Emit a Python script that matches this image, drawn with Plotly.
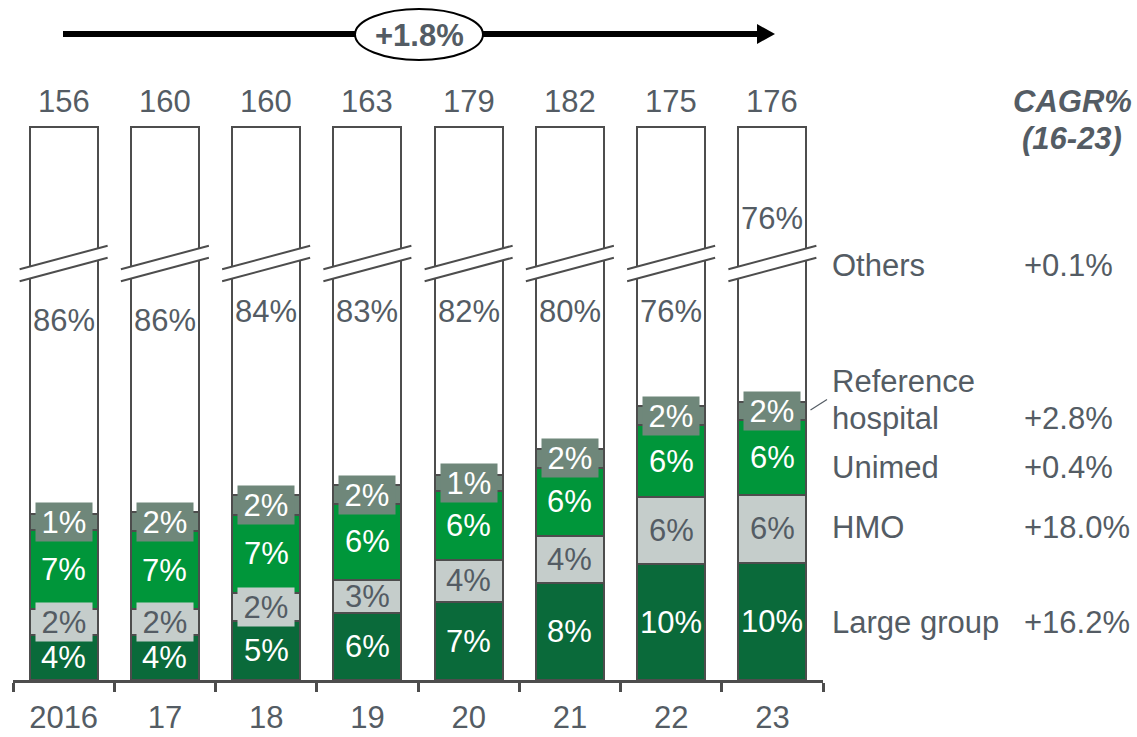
import plotly.graph_objects as go

# ---------------- data ----------------
years = ["2016", "17", "18", "19", "20", "21", "22", "23"]
totals = [156, 160, 160, 163, 179, 182, 175, 176]
large_group = [3.8, 3.8, 5.0, 5.7, 6.6, 8.2, 9.8, 9.9]
hmo = [2.2, 2.2, 2.4, 2.8, 3.6, 4.0, 5.7, 5.8]
unimed = [6.7, 6.6, 6.6, 6.4, 5.8, 5.8, 6.1, 6.3]
ref_hospital = [1.4, 1.6, 1.7, 1.6, 1.4, 1.6, 1.6, 1.6]
others = [85.9, 85.8, 84.3, 83.3, 82.4, 80.4, 76.4, 76.4]
segment_names = ["Others", "Reference", "hospital", "Unimed", "HMO", "Large group"]
cagr_values = ["+0.1%", "+2.8%", "+0.4%", "+18.0%", "+16.2%"]
overall_cagr = "+1.8%"
cagr_title = ["CAGR%", "(16-23)"]

# ---------------- style / layout ----------------
W, H = 1137, 737
ML, MR, MT, MB = 13, 314, 120, 57
PLOT_W = W - ML - MR          # 810
PLOT_H = H - MT - MB          # 560
PX_PER_UNIT = 11.8
Y_MAX = PLOT_H / PX_PER_UNIT
BREAK_TOP = (H - MB - 126.5) / PX_PER_UNIT   # visible top of the broken "Others" bar

FONT = "Arial, Liberation Sans, sans-serif"
FS = 31
C_LG = "#0A6A3A"
C_UNI = "#00963A"
C_HMO = "#C5CDCB"
C_REF = "#6F877A"
C_OTH = "#FFFFFF"
BORDER = "#4D4D4D"
TXT = "#545C64"


def px_x(p):
    return (p - ML) / PLOT_W


def px_y(p):
    return (H - MB - p) / PLOT_H


n = len(years)
cat_w = PLOT_W / n


def center_px(i):
    return ML + cat_w * (i + 0.5)


small_sum = [a + b + c + d for a, b, c, d in zip(large_group, hmo, unimed, ref_hospital)]
others_visible = [BREAK_TOP - s for s in small_sum]

fig = go.Figure()
line = dict(color=BORDER, width=2)
for vals, col in [(large_group, C_LG), (hmo, C_HMO), (unimed, C_UNI),
                  (ref_hospital, C_REF), (others_visible, C_OTH)]:
    fig.add_trace(go.Bar(x=years, y=vals, marker=dict(color=col, line=line),
                         hoverinfo="skip", showlegend=False))

ann = []
shapes = []

# segment labels
for i, yr in enumerate(years):
    cxp = px_x(center_px(i))
    base = 0
    for vals, fc, bg, boxed in [
        (large_group, "white", None, False),
        (hmo, TXT, C_HMO, hmo[i] < 2.6),
        (unimed, "white", None, False),
        (ref_hospital, "white", C_REF, True),
    ]:
        v = vals[i]
        d = dict(x=cxp, y=(base + v / 2) / Y_MAX, xref="paper", yref="paper",
                 text=f"{v:.0f}%",
                 showarrow=False, font=dict(family=FONT, size=FS, color=fc),
                 xanchor="center", yanchor="middle")
        if boxed:
            d.update(bgcolor=bg, width=56, height=38, borderpad=0)
        ann.append(d)
        base += v
    # Others label
    if i == n - 1:
        oy = px_y(218)
    elif i < 2:
        oy = px_y(320)
    else:
        oy = px_y(311)
    ann.append(dict(x=cxp, y=oy, xref="paper", yref="paper", text=f"{others[i]:.0f}%",
                    showarrow=False, font=dict(family=FONT, size=FS, color=TXT),
                    xanchor="center", yanchor="middle"))
    # totals
    ann.append(dict(x=cxp, y=px_y(102), xref="paper", yref="paper", text=str(totals[i]),
                    showarrow=False, font=dict(family=FONT, size=FS, color=TXT),
                    xanchor="center", yanchor="middle"))

    # axis break marks
    cx = center_px(i)
    xl, xr = cx - 44, cx + 44
    yu_l, yu_r = 269.3, 245.7
    gap = 12
    path = (f"M {px_x(xl)},{px_y(yu_l)} L {px_x(xr)},{px_y(yu_r)} "
            f"L {px_x(xr)},{px_y(yu_r + gap)} L {px_x(xl)},{px_y(yu_l + gap)} Z")
    shapes.append(dict(type="path", path=path, xref="paper", yref="paper",
                       fillcolor="white", line=dict(width=0), layer="above"))
    for off in (0, gap):
        shapes.append(dict(type="line", xref="paper", yref="paper",
                           x0=px_x(xl), y0=px_y(yu_l + off),
                           x1=px_x(xr), y1=px_y(yu_r + off),
                           line=dict(color=BORDER, width=2), layer="above"))

# right-hand labels
right_rows = [
    (segment_names[0], 265, cagr_values[0]),
    (segment_names[1], 381.5, None),
    (segment_names[2], 418, cagr_values[1]),
    (segment_names[3], 467, cagr_values[2]),
    (segment_names[4], 527, cagr_values[3]),
    (segment_names[5], 622, cagr_values[4]),
]
for name, ypx, cg in right_rows:
    ann.append(dict(x=px_x(830), y=px_y(ypx), xref="paper", yref="paper", text=name,
                    showarrow=False, font=dict(family=FONT, size=FS, color=TXT),
                    xanchor="left", yanchor="middle"))
    if cg:
        ann.append(dict(x=px_x(1022), y=px_y(ypx), xref="paper", yref="paper", text=cg,
                        showarrow=False, font=dict(family=FONT, size=FS, color=TXT),
                        xanchor="left", yanchor="middle"))
for t, ypx in zip(cagr_title, [101.5, 138]):
    ann.append(dict(x=px_x(1072), y=px_y(ypx), xref="paper", yref="paper",
                    text=f"<b><i>{t}</i></b>", showarrow=False,
                    font=dict(family=FONT, size=FS, color=TXT),
                    xanchor="center", yanchor="middle"))

# leader line for Reference hospital
shapes.append(dict(type="line", xref="paper", yref="paper",
                   x0=px_x(810.5), y0=px_y(410), x1=px_x(827), y1=px_y(399.5),
                   line=dict(color=TXT, width=1.2)))

# top CAGR arrow
shapes.append(dict(type="line", xref="paper", yref="paper",
                   x0=px_x(63), y0=px_y(34), x1=px_x(762), y1=px_y(34),
                   line=dict(color="black", width=6)))
shapes.append(dict(type="path", xref="paper", yref="paper",
                   path=(f"M {px_x(757)},{px_y(24)} L {px_x(775)},{px_y(34)} "
                         f"L {px_x(757)},{px_y(44)} Z"),
                   fillcolor="black", line=dict(width=0)))
shapes.append(dict(type="circle", xref="paper", yref="paper",
                   x0=px_x(355), x1=px_x(483), y0=px_y(60), y1=px_y(9),
                   fillcolor="white", line=dict(color="black", width=2)))
ann.append(dict(x=px_x(419), y=px_y(35), xref="paper", yref="paper",
                text=f"<b>{overall_cagr}</b>", showarrow=False,
                font=dict(family="Liberation Sans Narrow, Arial Narrow, Arial, sans-serif",
                          size=31, color=TXT),
                xanchor="center", yanchor="middle"))

fig.update_layout(
    width=W, height=H,
    margin=dict(l=ML, r=MR, t=MT, b=MB, pad=0, autoexpand=False),
    barmode="stack", bargap=1 - 68 / cat_w,
    plot_bgcolor="white", paper_bgcolor="white",
    showlegend=False,
    annotations=ann, shapes=shapes,
    xaxis=dict(type="category", range=[-0.5, n - 0.5], showline=True,
               linecolor=BORDER, linewidth=3, ticks="outside", tickson="boundaries",
               ticklen=9, tickwidth=3, tickcolor=BORDER, showgrid=False,
               ticklabelstandoff=8, automargin=False,
               tickfont=dict(family=FONT, size=FS, color=TXT), fixedrange=True),
    yaxis=dict(range=[0, Y_MAX], visible=False, showgrid=False, fixedrange=True,
               automargin=False),
)

fig.write_html("out.html", config={"displayModeBar": False})
